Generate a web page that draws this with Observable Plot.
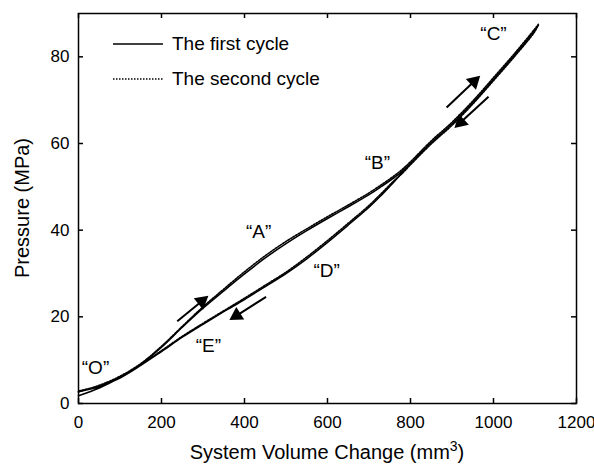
<!DOCTYPE html>
<html><head><meta charset="utf-8">
<script src="https://cdn.jsdelivr.net/npm/d3@7"></script>
<script src="https://cdn.jsdelivr.net/npm/@observablehq/plot@0.6"></script>
<style>
body{margin:0;background:#fff;font-family:"Liberation Sans",Arial,Helvetica,sans-serif;}
#wrap{position:relative;width:594px;height:465px;}
#legend{position:absolute;left:113px;top:26px;font-size:19px;color:#000;}
#legend .row{display:flex;align-items:center;height:35px;}
#legend svg{margin-right:9px;}
#xtitle{position:absolute;left:78px;width:498px;top:438px;text-align:center;font-size:20px;}
#ytitle{position:absolute;left:22px;top:208px;font-size:20px;transform:translate(-50%,-50%) rotate(-90deg);white-space:nowrap;}
sup{font-size:14px;}
</style></head><body><div id="wrap"></div>
<script>
// ---- data ----
const xTicks = [0, 200, 400, 600, 800, 1000, 1200];
const yTicks = [0, 20, 40, 60, 80];

// loading branch (volume change, mm^3) and pressure (MPa)
const loadV  = [0, 50, 100, 150, 200, 250, 300, 350, 400, 450, 500, 550, 600, 650, 700, 730, 760, 780, 800, 850, 900, 950, 1000, 1050, 1100, 1108];
const load1P = [1.8, 3.6, 6.0, 9.0, 13.0, 17.6, 22.0, 26.0, 29.9, 33.6, 36.9, 39.9, 42.7, 45.4, 48.2, 50.1, 52.1, 53.6, 55.4, 60.2, 64.5, 69.4, 74.8, 80.3, 86.2, 87.3];
const load2P = [2.7, 4.2, 6.3, 9.2, 13.2, 17.8, 22.3, 26.4, 30.4, 34.1, 37.4, 40.3, 43.1, 45.8, 48.6, 50.5, 52.5, 54.0, 55.8, 60.6, 64.9, 69.8, 75.2, 80.7, 86.5, 87.5];
// unloading branch
const unloadV  = [1108, 1100, 1050, 1000, 950, 900, 850, 800, 780, 760, 730, 700, 650, 600, 550, 500, 450, 400, 350, 300, 250, 200, 150, 100, 50, 0];
const unload1P = [87.3, 86.2, 80.3, 74.8, 69.4, 64.5, 60.2, 55.4, 53.3, 51.1, 48.1, 45.3, 41.2, 37.2, 33.4, 30.0, 27.0, 24.0, 21.2, 18.3, 15.3, 12.0, 8.8, 5.9, 3.9, 2.7];
const unload2P = [87.5, 85.9, 80.0, 74.5, 69.1, 64.2, 59.9, 55.1, 53.1, 51.4, 48.5, 45.7, 41.6, 37.6, 33.8, 30.3, 27.3, 24.3, 21.4, 18.5, 15.5, 12.2, 9.0, 6.1, 4.1, 2.9];

// direction arrows: tail -> head
const arrowTailV = [238, 452, 887, 988];
const arrowTailP = [19.0, 24.6, 68.3, 70.8];
const arrowHeadV = [297, 381, 953, 921];
const arrowHeadP = [23.6, 20.3, 74.3, 64.9];

// point labels
const labelText = ["\u201cO\u201d", "\u201cE\u201d", "\u201cA\u201d", "\u201cD\u201d", "\u201cB\u201d", "\u201cC\u201d"];
const labelV = [41, 313, 434, 598, 720, 1000];
const labelP = [8.1, 13.2, 39.5, 30.5, 55.6, 85.2];

const seriesNames = ["The first cycle", "The second cycle"];

// ---- build tables ----
const cycle1 = loadV.map((v, i) => ({v, p: load1P[i]})).concat(unloadV.map((v, i) => ({v, p: unload1P[i]})));
const cycle2 = loadV.map((v, i) => ({v, p: load2P[i]})).concat(unloadV.map((v, i) => ({v, p: unload2P[i]})));
const arrows = arrowTailV.map((v, i) => ({tv: v, tp: arrowTailP[i], hv: arrowHeadV[i], hp: arrowHeadP[i]}));
const labels = labelText.map((t, i) => ({t, v: labelV[i], p: labelP[i]}));

const W = 594, H = 465, mL = 78, mR = 18, mT = 13, mB = 62;
const plotW = W - mL - mR, plotH = H - mT - mB;
const xDom = [0, 1200], yDom = [0, 90];
const kx = plotW / (xDom[1] - xDom[0]), ky = plotH / (yDom[1] - yDom[0]);
const tick = 5;
const font = "Liberation Sans, Arial, Helvetica, sans-serif";

const chart = Plot.plot({
  width: W, height: H,
  marginLeft: mL, marginRight: mR, marginTop: mT, marginBottom: mB,
  style: {fontFamily: font, background: "white", color: "black"},
  x: {domain: xDom},
  y: {domain: yDom},
  marks: [
    Plot.axisX({ticks: xTicks, tickSize: 0, tickPadding: 12, fontSize: 17, label: null, tickFormat: d => String(d)}),
    Plot.axisY({ticks: yTicks, tickSize: 0, tickPadding: 9, fontSize: 17, label: null, tickFormat: d => String(d)}),
    Plot.tickX(xTicks, {x: d => d, insetTop: plotH - tick, stroke: "black", strokeWidth: 1.5}),
    Plot.tickX(xTicks, {x: d => d, insetBottom: plotH - tick, stroke: "black", strokeWidth: 1.5}),
    Plot.tickY(yTicks, {y: d => d, insetRight: plotW - tick, stroke: "black", strokeWidth: 1.5}),
    Plot.tickY(yTicks, {y: d => d, insetLeft: plotW - tick, stroke: "black", strokeWidth: 1.5}),
    Plot.line(cycle1, {x: "v", y: "p", stroke: "black", strokeWidth: 1.6, curve: "catmull-rom"}),
    Plot.line(cycle2, {x: "v", y: "p", stroke: "black", strokeWidth: 1.6, strokeDasharray: "1.5,1.5", curve: "catmull-rom"}),
    Plot.link(arrows, {x1: "tv", y1: "tp", x2: "hv", y2: "hp", stroke: "black", strokeWidth: 2}),
    Plot.dot(arrows, {x: "hv", y: "hp", symbol: "triangle", r: 5.5, fill: "black", stroke: "none",
      rotate: d => Math.atan2((d.hv - d.tv) * kx, (d.hp - d.tp) * ky) * 180 / Math.PI}),
    Plot.text(labels, {x: "v", y: "p", text: "t", fontSize: 19, fill: "black"}),
    Plot.frame({stroke: "black", strokeWidth: 1.5})
  ]
});

const wrap = document.getElementById("wrap");
wrap.appendChild(chart);

// legend
const leg = document.createElement("div");
leg.id = "legend";
leg.innerHTML = seriesNames.map((n, i) =>
  `<div class="row"><svg width="50" height="6"><line x1="0" x2="50" y1="3" y2="3" stroke="black" stroke-width="1.6" ${i ? 'stroke-dasharray="1.5,1.5"' : ''}/></svg><span>${n}</span></div>`).join("");
wrap.appendChild(leg);

const xt = document.createElement("div");
xt.id = "xtitle";
xt.innerHTML = "System Volume Change (mm<sup>3</sup>)";
wrap.appendChild(xt);
const yt = document.createElement("div");
yt.id = "ytitle";
yt.textContent = "Pressure (MPa)";
wrap.appendChild(yt);
</script>
</body></html>
